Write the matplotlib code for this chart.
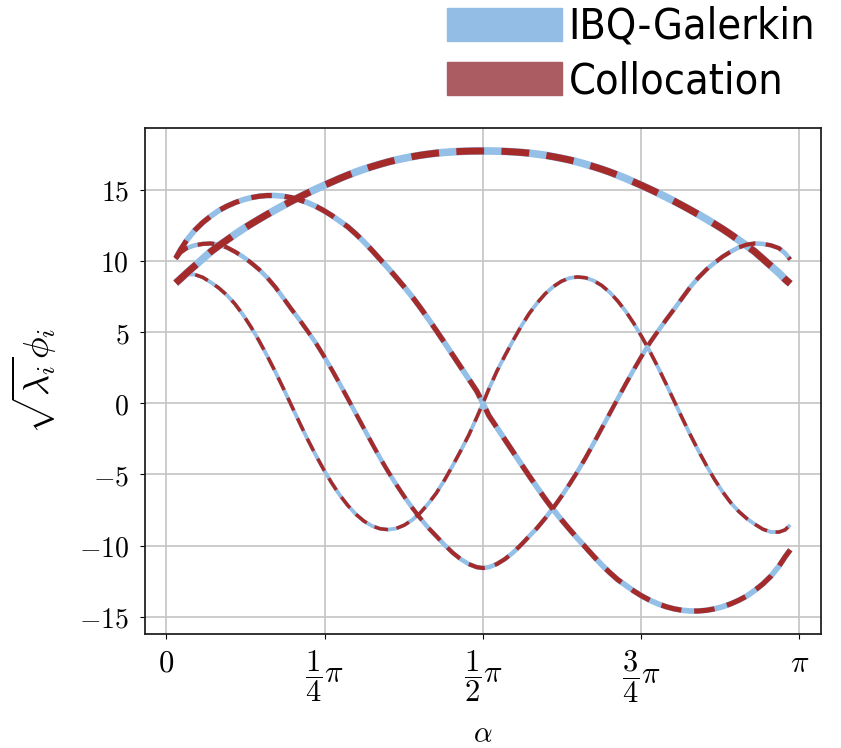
import numpy as np
from matplotlib import pyplot as plt
from matplotlib import font_manager as fm
from matplotlib.patches import Patch

plt.rcParams['mathtext.fontset'] = 'cm'

# alpha grid (rad) and the four scaled eigenfunctions
alpha = [0.046, 0.07, 0.10, 0.14, 0.18, 0.22, 0.26, 0.30, 0.34, 0.38,
         0.42, 0.46, 0.50, 0.54, 0.58, 0.62, 0.66, 0.70, 0.74, 0.78,
         0.82, 0.86, 0.90, 0.94, 0.98, 1.02, 1.06, 1.10, 1.14, 1.18,
         1.22, 1.26, 1.30, 1.34, 1.38, 1.42, 1.46, 1.50, 1.54,
         1.5708,
         1.60, 1.64, 1.68, 1.72, 1.76, 1.80, 1.84, 1.88, 1.92, 1.96,
         2.00, 2.04, 2.08, 2.12, 2.16, 2.20, 2.24, 2.28, 2.32, 2.36,
         2.40, 2.44, 2.48, 2.52, 2.56, 2.60, 2.64, 2.68, 2.72, 2.76,
         2.80, 2.84, 2.88, 2.92, 2.96, 3.00, 3.04, 3.07, 3.096]

phi_1 = [8.45, 8.75, 9.15, 9.65, 10.15, 10.65, 11.07, 11.47, 11.87, 12.25,
         12.6, 12.94, 13.27, 13.59, 13.9, 14.2, 14.49, 14.77, 15.04, 15.3,
         15.55, 15.8, 16.03, 16.25, 16.45, 16.63, 16.8, 16.96, 17.1, 17.22,
         17.33, 17.43, 17.51, 17.58, 17.63, 17.67, 17.7, 17.72, 17.73,
         17.73,
         17.73, 17.72, 17.7, 17.67, 17.63, 17.58, 17.51, 17.43, 17.33, 17.22,
         17.1, 16.96, 16.8, 16.63, 16.45, 16.25, 16.03, 15.8, 15.55, 15.3,
         15.04, 14.77, 14.49, 14.2, 13.9, 13.59, 13.27, 12.94, 12.6, 12.25,
         11.87, 11.47, 11.07, 10.65, 10.15, 9.65, 9.15, 8.72, 8.4]

phi_2 = [10.2, 10.8, 11.45, 12.15, 12.7, 13.15, 13.55, 13.85, 14.1, 14.3,
         14.45, 14.55, 14.6, 14.6, 14.55, 14.45, 14.3, 14.1, 13.85, 13.55,
         13.2, 12.8, 12.4, 11.9, 11.35, 10.75, 10.12, 9.5, 8.85, 8.18,
         7.48, 6.72, 5.92, 5.1, 4.26, 3.41, 2.56, 1.71, 0.86,
         0.0,
         -0.86, -1.71, -2.56, -3.41, -4.26, -5.1, -5.92, -6.72, -7.48, -8.18,
         -8.85, -9.5, -10.12, -10.75, -11.35, -11.9, -12.4, -12.8, -13.2, -13.55,
         -13.85, -14.1, -14.3, -14.45, -14.55, -14.6, -14.6, -14.55, -14.45, -14.3,
         -14.1, -13.85, -13.55, -13.15, -12.7, -12.15, -11.45, -10.8, -10.3]

phi_3 = [10.15, 10.6, 10.9, 11.1, 11.2, 11.23, 11.15, 10.95, 10.65, 10.3,
         9.87, 9.4, 8.83, 8.17, 7.4, 6.62, 5.87, 5.08, 4.27, 3.35,
         2.38, 1.37, 0.33, -0.72, -1.77, -2.82, -3.84, -4.8, -5.7, -6.55,
         -7.35, -8.08, -8.76, -9.35, -9.95, -10.5, -10.95, -11.3, -11.52,
         -11.58,
         -11.52, -11.3, -10.95, -10.5, -9.95, -9.35, -8.76, -8.08, -7.35, -6.55,
         -5.7, -4.8, -3.84, -2.82, -1.77, -0.72, 0.33, 1.37, 2.38, 3.35,
         4.27, 5.08, 5.87, 6.62, 7.4, 8.17, 8.83, 9.4, 9.87, 10.3,
         10.65, 10.95, 11.15, 11.23, 11.2, 11.1, 10.9, 10.55, 10.1]

phi_4 = [8.5, 8.9, 9.05, 9.05, 8.85, 8.5, 8.1, 7.6, 6.98, 6.22,
         5.35, 4.38, 3.33, 2.22, 1.05, -0.15, -1.35, -2.52, -3.62, -4.65,
         -5.6, -6.45, -7.18, -7.8, -8.28, -8.62, -8.82, -8.88, -8.8, -8.57,
         -8.2, -7.7, -7.05, -6.3, -5.4, -4.4, -3.35, -2.25, -1.0,
         0.0,
         1.0, 2.25, 3.35, 4.4, 5.4, 6.3, 7.05, 7.7, 8.2, 8.57,
         8.8, 8.88, 8.82, 8.62, 8.28, 7.8, 7.18, 6.45, 5.6, 4.65,
         3.62, 2.52, 1.35, 0.15, -1.05, -2.22, -3.33, -4.38, -5.35, -6.22,
         -6.98, -7.6, -8.1, -8.5, -8.85, -9.05, -9.05, -8.9, -8.55]

curves = [phi_1, phi_2, phi_3, phi_4]
widths = [5.0, 3.7, 3.0, 2.5]

blue = '#94bfe7'
red = '#a52a2a'

fig = plt.figure(figsize=(8.41, 7.48), dpi=100)
ax = fig.add_axes([0.1724, 0.1524, 0.8038, 0.6765])

for y, lw in zip(curves, widths):
    ax.plot(alpha, y, color=blue, lw=lw * 1.1, solid_capstyle='butt')
for y, lw in zip(curves, widths):
    ax.plot(alpha, y, color=red, lw=lw, linestyle=(0, (4, 2.5)))

ax.set_xticks([0, np.pi / 4, np.pi / 2, 3 * np.pi / 4, np.pi])
ax.set_xticklabels(['$0$', r'$\dfrac{1}{4}\pi$', r'$\dfrac{1}{2}\pi$',
                    r'$\dfrac{3}{4}\pi$', r'$\pi$'], va='top')
yt = [-15, -10, -5, 0, 5, 10, 15]
ax.set_yticks(yt)
ax.set_yticklabels(['$%d$' % v for v in yt])
ax.tick_params(axis='y', labelsize=20, pad=8)
ax.tick_params(axis='x', labelsize=22, pad=7)
ax.grid(True, color='#c4c4c4', lw=1.2)
ax.set_axisbelow(True)
for s in ax.spines.values():
    s.set_linewidth(1.3)
    s.set_color('#222222')

ax.set_xlabel(r'$\alpha$', fontsize=21, labelpad=11)
ax.set_ylabel(r'$\sqrt{\lambda_i}\phi_i$', fontsize=26, labelpad=14)

# legend font: a narrow sans if one is installed, otherwise Lato
narrow = [f for f in fm.fontManager.ttflist
          if ('Narrow' in f.name or 'Condensed' in f.name or 'condensed' in str(f.stretch))
          and f.style == 'normal' and str(f.weight) in ('400', 'normal', 'regular')]
if narrow:
    lprop = fm.FontProperties(fname=narrow[0].fname, size=31)
else:
    lprop = fm.FontProperties(family='Lato', size=30)

handles = [Patch(color='#94bde6'), Patch(color='#ab5b62')]
fig.legend(handles, ['IBQ-Galerkin', 'Collocation'], loc='upper left',
           bbox_to_anchor=(447 / 841, 1 - 6 / 748), frameon=False,
           borderpad=0, borderaxespad=0, handlelength=2.67, handleheight=0.8,
           handletextpad=0.15, labelspacing=0.28, prop=lprop)

fig.savefig('out.png', dpi=100)
